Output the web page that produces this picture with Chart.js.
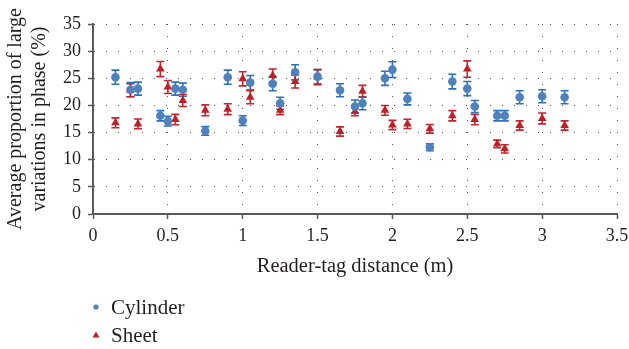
<!DOCTYPE html>
<html>
<head>
<meta charset="utf-8">
<script src="https://cdn.jsdelivr.net/npm/chart.js@4"></script>
<style>
  html, body { margin: 0; padding: 0; background: #fff; }
  #wrap { width: 629px; height: 349px; }
</style>
</head>
<body>
<div id="wrap"><canvas id="chart" width="629" height="349"></canvas></div>
<script>
// distances (m)
const distances = [0.15, 0.25, 0.3, 0.45, 0.5, 0.55, 0.6, 0.75, 0.9, 1.0, 1.05, 1.2, 1.25, 1.35, 1.5,
                   1.65, 1.75, 1.8, 1.95, 2.0, 2.1, 2.25, 2.4, 2.5, 2.55, 2.7, 2.75, 2.85, 3.0, 3.15];

const cylinderValues = [25.2, 22.9, 23.1, 18.1, 17.1, 23.1, 22.9, 15.3, 25.2, 17.2, 24.2, 24.0, 20.4, 26.1, 25.3,
                        22.8, 19.8, 20.4, 25.0, 26.6, 21.2, 12.3, 24.4, 23.1, 19.8, 18.1, 18.1, 21.5, 21.7, 21.5];
const cylinderErrors = [1.3, 1.3, 1.2, 0.95, 0.9, 1.2, 1.2, 0.8, 1.3, 0.9, 1.3, 1.3, 1.1, 1.4, 1.3,
                        1.2, 1.2, 1.2, 1.3, 1.45, 1.1, 0.65, 1.35, 1.3, 1.1, 0.95, 0.95, 1.2, 1.2, 1.2];

const sheetValues = [16.8, 22.8, 16.6, 26.7, 23.4, 17.4, 20.9, 19.1, 19.3, 24.9, 21.5, 25.5, 19.1, 24.4, 25.2,
                     15.2, 18.9, 22.6, 19.1, 16.4, 16.6, 15.7, 18.1, 26.7, 17.4, 12.9, 12.0, 16.3, 17.6, 16.3];
const sheetErrors = [0.9, 1.2, 0.9, 1.4, 1.2, 0.95, 1.1, 1.0, 1.0, 1.3, 1.2, 1.2, 0.8, 1.2, 1.4,
                     0.85, 0.8, 1.1, 0.9, 0.85, 0.85, 0.8, 0.95, 1.5, 0.95, 0.7, 0.75, 0.85, 1.0, 0.85];

const seriesNames = ['Cylinder', 'Sheet'];
const yTitle = ['Average proportion of large', 'variations in phase (%)'];
const xTitle = 'Reader-tag distance (m)';

const FONT = "'Liberation Serif', 'DejaVu Serif', serif";
const TEXT = '#231f20';

function toPoints(xs, ys, errs) {
  return xs.map((x, i) => ({ x: x, y: ys[i], err: errs[i] }));
}

// error bars, drawn under the markers
const errorBars = {
  id: 'errorBars',
  beforeDatasetsDraw(chart) {
    const ctx = chart.ctx;
    const yScale = chart.scales.y;
    chart.data.datasets.forEach((ds, di) => {
      const meta = chart.getDatasetMeta(di);
      ctx.save();
      ctx.strokeStyle = ds.errorColor;
      ctx.lineWidth = 1.6;
      meta.data.forEach((pt, i) => {
        const d = ds.data[i];
        const top = yScale.getPixelForValue(d.y + d.err);
        const bot = yScale.getPixelForValue(d.y - d.err);
        const x = pt.x;
        ctx.beginPath();
        ctx.moveTo(x, top); ctx.lineTo(x, bot);
        ctx.moveTo(x - 4, top); ctx.lineTo(x + 4, top);
        ctx.moveTo(x - 4, bot); ctx.lineTo(x + 4, bot);
        ctx.stroke();
      });
      ctx.restore();
    });
  }
};

// stacked legend under the x axis title
const stackedLegend = {
  id: 'stackedLegend',
  afterDraw(chart) {
    const ctx = chart.ctx;
    const rows = [307, 335];
    ctx.save();
    chart.data.datasets.forEach((ds, i) => {
      const y = rows[i];
      ctx.fillStyle = ds.backgroundColor;
      ctx.beginPath();
      if (ds.pointStyle === 'triangle') {
        ctx.moveTo(96, y - 3.5);
        ctx.lineTo(99.5, y + 2.5);
        ctx.lineTo(92.5, y + 2.5);
        ctx.closePath();
      } else {
        ctx.arc(96, y, 2.6, 0, Math.PI * 2);
      }
      ctx.fill();
      ctx.fillStyle = TEXT;
      ctx.font = '21px ' + FONT;
      ctx.textBaseline = 'middle';
      ctx.fillText(ds.label, 111, y + 1);
    });
    ctx.restore();
  }
};

const gridOpts = {
  color: '#555',
  lineWidth: 1,
  tickLength: 5,
  tickColor: '#595959',
  tickBorderDash: [],
  tickWidth: 1.5
};

new Chart(document.getElementById('chart'), {
  type: 'scatter',
  data: {
    datasets: [
      {
        label: seriesNames[0],
        data: toPoints(distances, cylinderValues, cylinderErrors),
        pointStyle: 'circle',
        pointRadius: 4.3,
        backgroundColor: '#4f81bd',
        borderColor: '#4f81bd',
        borderWidth: 0,
        errorColor: '#2a72bf'
      },
      {
        label: seriesNames[1],
        data: toPoints(distances, sheetValues, sheetErrors),
        pointStyle: 'triangle',
        pointRadius: 5,
        backgroundColor: '#be2026',
        borderColor: '#be2026',
        borderWidth: 0,
        errorColor: '#c4262e'
      }
    ]
  },
  options: {
    responsive: false,
    animation: false,
    layout: { padding: { top: 24, right: 0, left: 0, bottom: 0 } },
    plugins: {
      legend: { display: false },
      tooltip: { enabled: false }
    },
    scales: {
      x: {
        type: 'linear',
        min: 0,
        max: 3.5,
        afterFit(scale) {
          scale.height = 135;
          scale.paddingRight = 12;
        },
        ticks: {
          stepSize: 0.5,
          color: TEXT,
          font: { family: FONT, size: 18 },
          padding: 6,
          maxRotation: 0,
          callback: v => String(v)
        },
        grid: gridOpts,
        border: { color: '#595959', width: 2, dash: [1, 11] },
        title: {
          display: true,
          text: xTitle,
          color: TEXT,
          font: { family: FONT, size: 20.5 },
          padding: { top: 0, bottom: 70 }
        }
      },
      y: {
        min: 0,
        max: 35,
        afterFit(scale) { scale.width = 93; },
        ticks: {
          stepSize: 5,
          color: TEXT,
          font: { family: FONT, size: 18 },
          padding: 7,
          callback: v => String(v)
        },
        grid: gridOpts,
        border: { color: '#595959', width: 2, dash: [1, 11] },
        title: {
          display: true,
          text: yTitle,
          color: TEXT,
          font: { family: FONT, size: 20 },
          padding: { top: 4, bottom: 0 }
        }
      }
    }
  },
  plugins: [errorBars, stackedLegend]
});
</script>
</body>
</html>
